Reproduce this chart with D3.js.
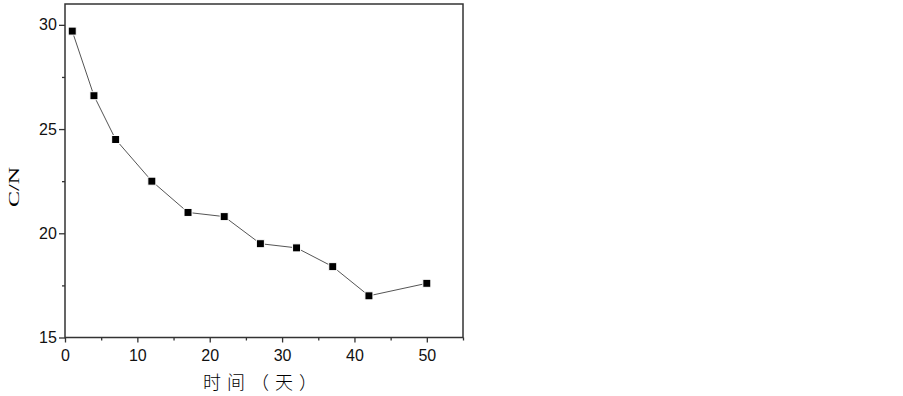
<!DOCTYPE html>
<html><head><meta charset="utf-8">
<script src="https://cdn.jsdelivr.net/npm/d3@7"></script>
<style>body{margin:0;background:#fff}svg{display:block}</style>
</head><body>
<script>
const days = [1, 4, 7, 12, 17, 22, 27, 32, 37, 42, 50];
const cn = [29.7, 26.6, 24.5, 22.5, 21.0, 20.8, 19.5, 19.3, 18.4, 17.0, 17.6];
const xTicks = [0, 10, 20, 30, 40, 50];
const yTicks = [15, 20, 25, 30];
const xLabel = "时间（天）";
const yLabel = "C/N";

const W = 903, H = 396;
const L = 65, T = 4, R = 463, B = 337.5;
const svg = d3.select("body").append("svg").attr("width", W).attr("height", H);
const x = d3.scaleLinear().domain([0, 55]).range([L, R]);
const y = d3.scaleLinear().domain([15, 31]).range([B, T]);

const font = "'Liberation Sans', Arial, sans-serif";
const xAxis = d3.axisBottom(x).tickValues(xTicks).tickSize(5).tickFormat(d3.format("d"));
const xMinor = d3.axisBottom(x).tickValues([5,15,25,35,45,55]).tickSize(3).tickFormat("");
const yAxis = d3.axisLeft(y).tickValues(yTicks).tickSize(6).tickFormat(d3.format("d"));
const yMinor = d3.axisLeft(y).tickValues([17.5,22.5,27.5]).tickSize(3).tickFormat("");

function style(g){
  g.select(".domain").remove();
  g.selectAll("line").attr("stroke","#333").attr("stroke-width",1.3);
  g.selectAll("text").attr("font-family",font).attr("font-size",16).attr("fill","#111");
}
svg.append("g").attr("transform",`translate(0,${B})`).call(xAxis).call(style)
  .selectAll("text").attr("dy","0.95em");
svg.append("g").attr("transform",`translate(0,${B})`).call(xMinor).call(style);
svg.append("g").attr("transform",`translate(${L},0)`).call(yAxis).call(style)
  .selectAll("text").attr("dx","0.05em");
svg.append("g").attr("transform",`translate(${L},0)`).call(yMinor).call(style);

svg.append("rect").attr("x",L).attr("y",T).attr("width",R-L).attr("height",B-T)
  .attr("fill","none").attr("stroke","#333").attr("stroke-width",1.5);

const pts = days.map((d,i)=>[d,cn[i]]);
svg.append("path").datum(pts)
  .attr("d", d3.line().x(d=>x(d[0])).y(d=>y(d[1])))
  .attr("fill","none").attr("stroke","#555").attr("stroke-width",1);
const s = 8;
svg.selectAll("rect.pt").data(pts).enter().append("rect").attr("class","pt")
  .attr("x",d=>x(d[0])-s/2).attr("y",d=>y(d[1])-s/2).attr("width",s).attr("height",s)
  .attr("fill","#000").attr("stroke","#fff").attr("stroke-width",1);

svg.append("text").attr("x",203).attr("y",389).attr("text-anchor","start")
  .attr("font-family","'Noto Sans CJK SC', sans-serif").attr("font-size",18).attr("fill","#000")
  .attr("font-weight",300).attr("letter-spacing","6px").text(xLabel);
svg.append("text").attr("transform",`translate(19,187) rotate(-90)`).attr("text-anchor","middle")
  .attr("font-family","'Liberation Serif', 'Times New Roman', serif").attr("font-size",14).attr("fill","#000")
  .attr("textLength",40).attr("lengthAdjust","spacingAndGlyphs")
  .text(yLabel);
</script>
</body></html>
